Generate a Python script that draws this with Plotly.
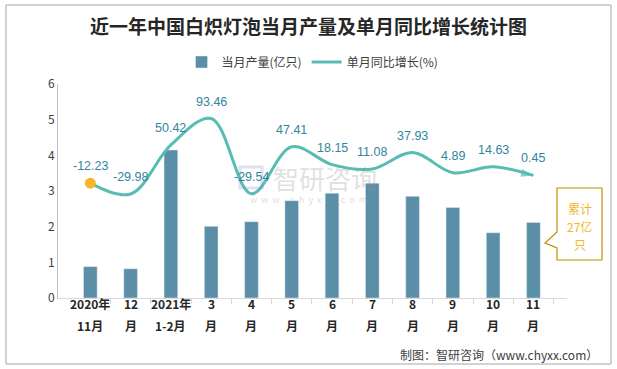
import plotly.graph_objects as go

categories = ["2020年11月", "12月", "2021年1-2月", "3月", "4月", "5月", "6月", "7月", "8月", "9月", "10月", "11月"]
tick_top = ["2020年", "12", "2021年", "3", "4", "5", "6", "7", "8", "9", "10", "11"]
tick_bottom = ["11月", "月", "1-2月", "月", "月", "月", "月", "月", "月", "月", "月", "月"]
output_values = [0.88, 0.82, 4.15, 2.01, 2.14, 2.73, 2.94, 3.22, 2.85, 2.54, 1.83, 2.12]
yoy_growth = [-12.23, -29.98, 50.42, 93.46, -29.54, 47.41, 18.15, 11.08, 37.93, 4.89, 14.63, 0.45]
y_ticks = [0, 1, 2, 3, 4, 5, 6]

W, H = 617, 369
L, R, T, B = 58, 50, 84, 71
PW, PH = W - L - R, H - T - B


def px(x):
    return (x - L) / PW


def py(y):
    return (H - B - y) / PH


BAR_COLOR = "#5B8FA8"
LINE_COLOR = "#57BDB3"
LABEL_COLOR = "#31859C"
FONT = "Noto Sans CJK SC"

fig = go.Figure()
fig.add_trace(go.Bar(
    x=categories, y=output_values, name="当月产量(亿只)",
    marker_color=BAR_COLOR, width=0.34, yaxis="y",
))

n = len(yoy_growth)
symbols = ["circle"] * (n - 1) + ["arrow"]
sizes = [0] * (n - 1) + [13]
fig.add_trace(go.Scatter(
    x=categories, y=yoy_growth, name="单月同比增长(%)", yaxis="y2",
    mode="lines+markers",
    line=dict(color=LINE_COLOR, width=3, shape="spline", smoothing=1),
    marker=dict(symbol=symbols, size=sizes, color=LINE_COLOR, angleref="previous", line=dict(width=0)),
    showlegend=True,
))
fig.add_trace(go.Scatter(
    x=categories[:1], y=yoy_growth[:1], yaxis="y2", mode="markers",
    marker=dict(size=11, color="#F5B728"), showlegend=False, hoverinfo="skip",
))

annotations = []
for c, v in zip(categories, yoy_growth):
    annotations.append(dict(x=c, xref="x", y=v, yref="y2", yshift=17, text=f"{v:.2f}", showarrow=False,
                            xanchor="center", yanchor="middle",
                            font=dict(family="Liberation Sans, " + FONT, size=12.5, color=LABEL_COLOR)))
for c, t1, t2 in zip(categories, tick_top, tick_bottom):
    annotations.append(dict(x=c, xref="x", y=py(314), yref="paper", text=f"<b>{t1}</b>", xanchor="center",
                            showarrow=False, font=dict(family=FONT, size=12, color="#262626")))
    annotations.append(dict(x=c, xref="x", y=py(336), yref="paper", text=f"<b>{t2}</b>", xanchor="center",
                            showarrow=False, font=dict(family=FONT, size=12, color="#262626")))

# callout text
for txt, yy in [("累计", 208), ("27亿", 226), ("只", 244)]:
    annotations.append(dict(x=px(579.5), y=py(yy), xref="paper", yref="paper", text=txt, showarrow=False,
                            xanchor="center", yanchor="middle",
                            font=dict(family=FONT, size=12, color="#F5B728")))

# watermark
annotations.append(dict(x=px(325), y=py(177), xref="paper", yref="paper", text="智研咨询", showarrow=False,
                        xanchor="center", yanchor="middle",
                        font=dict(family=FONT, size=26, color="rgba(150,150,150,0.3)")))
annotations.append(dict(x=px(308), y=py(199), xref="paper", yref="paper", text="w  w  w  .  c  h  y  x  x  .  c  o  m",
                        xanchor="center", yanchor="middle",
                        showarrow=False, font=dict(family=FONT, size=9, color="rgba(150,150,150,0.35)")))
# source
annotations.append(dict(x=px(600), y=py(354), xref="paper", yref="paper", xanchor="right", yanchor="middle",
                        text="制图：智研咨询（www.chyxx.com）", showarrow=False,
                        font=dict(family=FONT, size=12, color="#404040")))

shapes = [
    dict(type="rect", xref="paper", yref="paper", x0=px(6), x1=px(611), y0=py(5), y1=py(364),
         line=dict(color="#A6A6A6", width=1), layer="below"),
    # watermark logo
    dict(type="rect", xref="paper", yref="paper", x0=px(240), x1=px(262), y0=py(188), y1=py(167),
         line=dict(color="rgba(120,140,190,0.25)", width=3), fillcolor="rgba(0,0,0,0)"),
]
callout_pts = [(557, 188), (602, 188), (602, 260), (557, 260), (557, 248), (545, 243), (557, 232)]
path = "M " + " L ".join(f"{px(a):.5f},{py(b):.5f}" for a, b in callout_pts) + " Z"
shapes.append(dict(type="path", xref="paper", yref="paper", path=path,
                   line=dict(color="#BF9000", width=1.2), fillcolor="white"))

fig.update_layout(
    width=W, height=H,
    margin=dict(l=L, r=R, t=T, b=B, autoexpand=False),
    paper_bgcolor="white", plot_bgcolor="white",
    font=dict(family=FONT, size=12, color="#404040"),
    title=dict(text="<b>近一年中国白炽灯泡当月产量及单月同比增长统计图</b>", x=0.5, xanchor="center",
               y=1 - 27 / H, yanchor="middle", font=dict(family=FONT, size=19, color="#262626")),
    legend=dict(orientation="h", x=0.5, xanchor="center", yref="container", y=1 - 62 / H, yanchor="middle",
                font=dict(family=FONT, size=12, color="#404040"), itemwidth=30),
    bargap=0.5,
    xaxis=dict(showticklabels=False, ticks="outside", tickson="boundaries", ticklen=5,
               tickcolor="#D9D9D9", showline=True, linecolor="#D9D9D9", linewidth=1, showgrid=False),
    yaxis=dict(range=[0, 6], tickvals=y_ticks, showgrid=False, showline=True, linecolor="#BFBFBF",
               linewidth=1, ticks="", tickfont=dict(size=12, color="#404040"), zeroline=False),
    yaxis2=dict(range=[-200, 150], overlaying="y", side="right", visible=False),
    annotations=annotations,
    shapes=shapes,
)

fig.write_html("out.html", config={"displayModeBar": False},
               post_script="document.body.style.margin='0px';document.body.style.overflow='hidden';")
